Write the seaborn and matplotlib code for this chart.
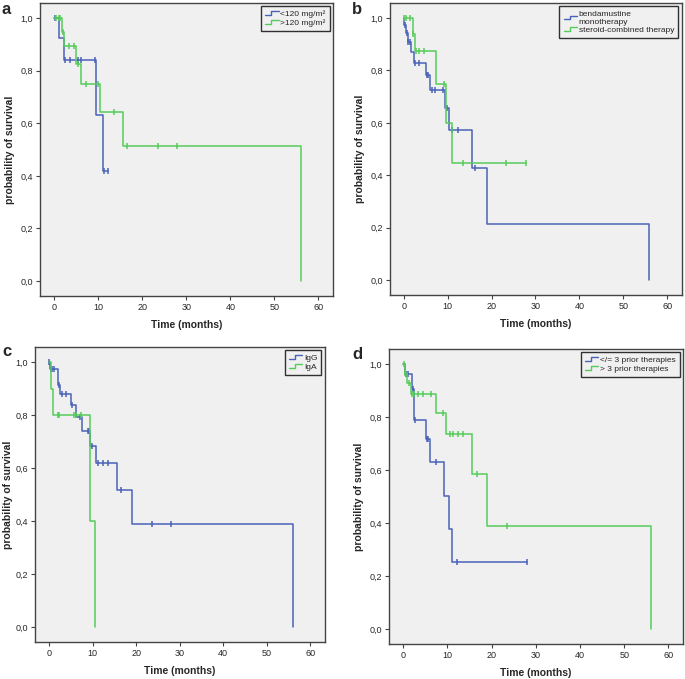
import numpy as np
import matplotlib
matplotlib.use('Agg')
import matplotlib.pyplot as plt
import seaborn as sns
from matplotlib.lines import Line2D
from matplotlib.legend_handler import HandlerBase

# ---- data (time in months, survival prob.) ----
# panel a: dose
a_blue_t = [0, 1.05, 2.2, 9.4, 11.1, 12.3]
a_blue_s = [1.0, 0.926, 0.842, 0.633, 0.42, 0.42]
a_blue_cens = [0.3, 2.5, 3.6, 5.5, 6.1, 9.2, 11.4, 12.3]
a_green_t = [0, 1.7, 2.35, 5.0, 6.0, 10.5, 15.6, 56.0]
a_green_s = [1.0, 0.947, 0.892, 0.825, 0.75, 0.643, 0.514, 0.0]
a_green_cens = [0.45, 1.0, 1.4, 2.0, 3.3, 4.5, 5.4, 7.3, 9.95, 13.6, 16.6, 23.5, 28.0]
a_labels = ['<120 mg/m\u00b2', '>120 mg/m\u00b2']

# panel b: therapy
b_blue_t = [0, 0.15, 0.6, 0.85, 1.75, 2.3, 5.1, 5.9, 9.35, 10.4, 15.6, 19.0, 55.8]
b_blue_s = [1.0, 0.972, 0.943, 0.909, 0.87, 0.83, 0.782, 0.727, 0.655, 0.572, 0.429, 0.213, 0.0]
b_blue_cens = [0.2, 0.75, 0.95, 1.4, 2.5, 3.5, 5.3, 5.6, 6.4, 7.2, 9.0, 9.9, 11.0, 12.3, 16.3]
b_green_t = [0, 2.1, 2.5, 7.4, 9.7, 11.0, 27.9]
b_green_s = [1.0, 0.94, 0.873, 0.749, 0.598, 0.448, 0.448]
b_green_cens = [0.15, 0.6, 1.5, 2.2, 2.8, 3.5, 4.5, 9.2, 13.4, 23.4, 27.9]
b_labels = ['bendamustine\nmonotherapy', 'steroid-combined therapy']

# panel c: isotype
c_blue_t = [0, 0.2, 2.0, 2.65, 5.1, 6.1, 7.6, 9.5, 10.8, 15.6, 19.0, 56.0]
c_blue_s = [1.0, 0.975, 0.913, 0.88, 0.837, 0.792, 0.74, 0.683, 0.62, 0.516, 0.387, 0.0]
c_blue_cens = [0.0, 0.4, 0.8, 1.1, 2.2, 3.1, 3.8, 5.3, 7.2, 9.0, 9.3, 9.9, 11.3, 12.3, 13.5, 16.6, 23.6, 28.0]
c_green_t = [0, 0.5, 1.0, 9.35, 10.6]
c_green_s = [1.0, 0.9, 0.8, 0.4, 0.0]
c_green_cens = [2.1, 2.4, 5.7, 6.2, 7.4]
c_labels = ['IgG', 'IgA']

# panel d: prior therapies
d_blue_t = [0, 0.3, 1.9, 2.4, 5.05, 6.0, 9.3, 10.4, 11.0, 28.1]
d_blue_s = [1.0, 0.962, 0.907, 0.79, 0.718, 0.629, 0.503, 0.377, 0.252, 0.252]
d_blue_cens = [0.6, 1.1, 2.1, 2.6, 5.3, 5.6, 7.4, 12.2, 28.1]
d_green_t = [0, 0.4, 0.75, 1.7, 7.5, 9.7, 15.6, 19.0, 56.0]
d_green_s = [1.0, 0.966, 0.928, 0.887, 0.817, 0.737, 0.586, 0.39, 0.0]
d_green_cens = [0.1, 0.5, 1.2, 2.0, 2.4, 3.4, 4.5, 6.3, 9.1, 10.6, 11.3, 12.5, 13.6, 16.6, 23.4]
d_labels = ['</= 3 prior therapies', '> 3 prior therapies']

BLUE = '#4a62b8'
GREEN = '#55cc5a'

sns.set_style('ticks')
plt.rcParams['font.family'] = ['Liberation Sans', 'DejaVu Sans']


class StepHandler(HandlerBase):
    # little step-shaped legend key like SPSS uses
    def create_artists(self, legend, orig_handle, xdescent, ydescent, width, height, fontsize, trans):
        x = np.array([0, 0.45, 0.45, 1.0]) * width - xdescent
        y = np.array([0.2, 0.2, 0.85, 0.85]) * height - ydescent
        ln = Line2D(x, y, color=orig_handle.get_color(), lw=1)
        ln.set_transform(trans)
        return [ln]


def surv_at(t, s, c):
    idx = np.searchsorted(t, c, side='right') - 1
    return np.asarray(s)[idx]


def draw_panel(ax, curves, labels, ylab_x=-0.103):
    handles = []
    for (t, s, cens), col in zip(curves, [BLUE, GREEN]):
        sns.lineplot(x=t, y=s, drawstyle='steps-post', estimator=None, sort=False,
                     color=col, lw=1.1, ax=ax)
        ax.plot(cens, surv_at(t, s, cens), ls='none', marker='|', ms=5, mew=1.1, color=col)
        handles.append(Line2D([], [], color=col))
    ax.set_facecolor('#f0f0f0')
    ax.set_xlim(-3.2, 63.3)
    ax.set_ylim(-0.057, 1.057)
    ax.set_xticks(range(0, 61, 10))
    yt = [0, 0.2, 0.4, 0.6, 0.8, 1.0]
    ax.set_yticks(yt)
    ax.set_yticklabels([f'{v:.1f}'.replace('.', ',') for v in yt])
    ax.tick_params(labelsize=6.5, length=3, width=0.8, color='#444444', pad=2)
    for sp in ax.spines.values():
        sp.set_visible(True)
        sp.set_color('#444444')
        sp.set_linewidth(1.0)
    ax.set_xlabel('Time (months)', fontsize=7.5, fontweight='bold', labelpad=6)
    ax.set_ylabel('probability of survival', fontsize=7.5, fontweight='bold', va='center')
    ax.yaxis.set_label_coords(ylab_x, 0.5)
    leg = ax.legend(handles, labels, loc='upper right', fontsize=6, frameon=True,
                    fancybox=False, handlelength=1.6, handletextpad=0.2,
                    borderaxespad=0.4, borderpad=0.5, labelspacing=0.1,
                    handler_map={Line2D: StepHandler()})
    leg.get_frame().set_edgecolor('black')
    leg.get_frame().set_linewidth(1.0)
    leg.get_frame().set_facecolor('#f0f0f0')


fig = plt.figure(figsize=(6.85, 6.79), dpi=100)
ax_a = fig.add_axes([0.0584, 0.564, 0.4277, 0.4315])
ax_b = fig.add_axes([0.569, 0.5655, 0.426, 0.430])
ax_c = fig.add_axes([0.0511, 0.0545, 0.423, 0.4345])
ax_d = fig.add_axes([0.568, 0.0515, 0.429, 0.4345])

draw_panel(ax_a, [(a_blue_t, a_blue_s, a_blue_cens), (a_green_t, a_green_s, a_green_cens)], a_labels)
draw_panel(ax_b, [(b_blue_t, b_blue_s, b_blue_cens), (b_green_t, b_green_s, b_green_cens)], b_labels)
draw_panel(ax_c, [(c_blue_t, c_blue_s, c_blue_cens), (c_green_t, c_green_s, c_green_cens)], c_labels,
           ylab_x=-0.094)
draw_panel(ax_d, [(d_blue_t, d_blue_s, d_blue_cens), (d_green_t, d_green_s, d_green_cens)], d_labels)

for x, y, letter in [(2, 2, 'a'), (352, 2, 'b'), (2, 344, 'c'), (352, 347, 'd')]:
    fig.text(x / 685, 1 - y / 679, letter, fontsize=12, fontweight='bold', va='top', ha='left')

fig.savefig('out.png', dpi=100)
